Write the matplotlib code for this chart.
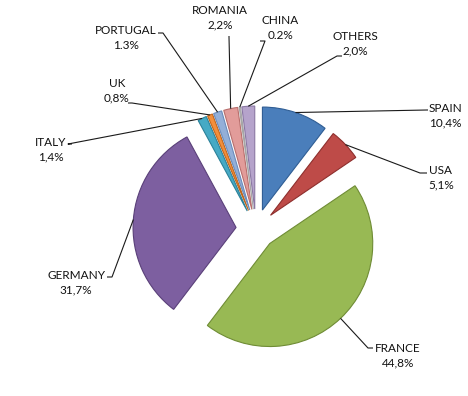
import numpy as np
import matplotlib.pyplot as plt

countries = ["SPAIN", "USA", "FRANCE", "GERMANY", "ITALY", "UK",
             "PORTUGAL", "ROMANIA", "CHINA", "OTHERS"]
shares = [10.4, 5.1, 44.8, 31.7, 1.4, 0.8, 1.3, 2.2, 0.2, 2.0]
share_text = ["10,4%", "5,1%", "44,8%", "31,7%", "1,4%", "0,8%",
              "1.3%", "2,2%", "0.2%", "2,0%"]
colors = ["#4a7ebb", "#be4b48", "#98b954", "#7d5fa0", "#46aac5", "#f38f3b",
          "#93afd8", "#e29c9a", "#d9d9d9", "#b5a3cb"]
edges = ["#2f5d94", "#8e2f2d", "#6f8c35", "#5a4079", "#2c8199", "#c0651b",
         "#6a8bbb", "#b86e6c", "#a6a6a6", "#8a77a3"]

# label layout in pixels (y down): text centre, elbow of leader, tick end
text_pos = [(445, 116), (441, 178), (398, 356), (76, 283), (51, 150),
            (117, 91), (126, 38), (220, 18), (280, 28), (355, 44)]
elbow = [(427, 110), (420, 173), (368, 348), (112, 277), (68, 144),
         (132, 103), (163, 33), (229, 37), (265, 41), (337, 56)]
tick = [(428, 110), (427, 173), (373, 348), (107, 277), (72, 144),
        (128, 103), (158, 33), (229, 36), (260, 41), (342, 56)]

W, H = 468, 396
fig = plt.figure(figsize=(W / 100, H / 100), dpi=100)
ax = fig.add_axes([0, 0, 1, 1])

radius = 103
wedges, _ = ax.pie(shares, colors=colors, startangle=90, counterclock=False,
                   center=(256, H - 229), radius=radius,
                   explode=[20] * len(shares), frame=True,
                   wedgeprops=dict(linewidth=0.8))
ax.axis("off")
ax.set_xlim(0, W)
ax.set_ylim(0, H)
ax.set_aspect("equal")

for w, ec in zip(wedges, edges):
    w.set_edgecolor(ec)

for i, w in enumerate(wedges):
    th = np.deg2rad(0.5 * (w.theta1 + w.theta2))
    ax_ = w.center[0] + w.r * np.cos(th)
    ay_ = w.center[1] + w.r * np.sin(th)
    ex, ey = elbow[i]
    tx, ty = tick[i]
    ax.plot([ax_, ex, tx], [ay_, H - ey, H - ty], color="#1a1a1a", lw=0.8,
            solid_capstyle="butt")
    px, py = text_pos[i]
    ax.text(px, H - py, f"{countries[i]}\n{share_text[i]}", ha="center",
            va="center", fontsize=8.5, family="Lato", color="#111111",
            linespacing=1.35)

fig.savefig("out.png", dpi=100)
